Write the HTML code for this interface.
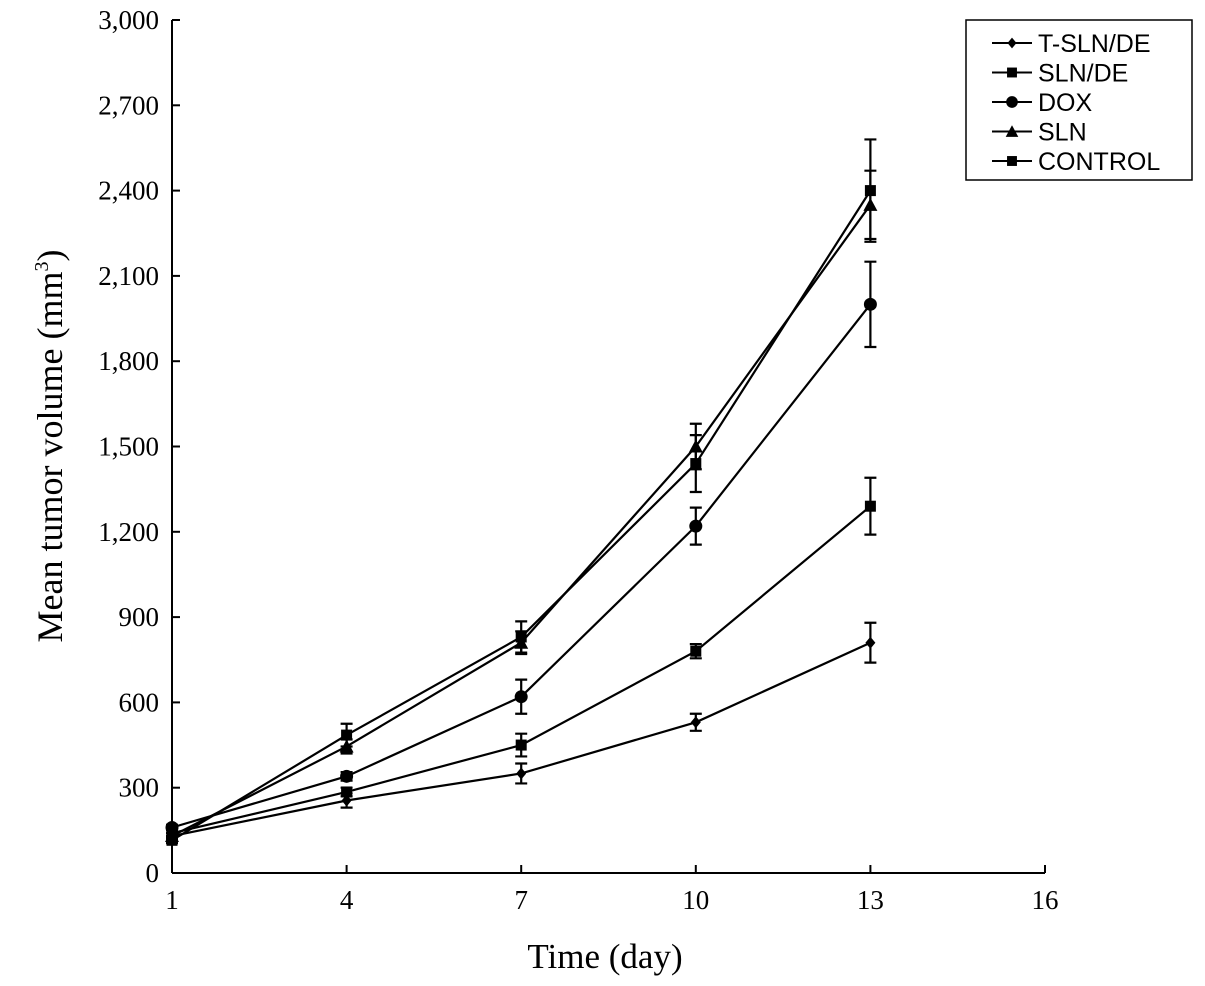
<!DOCTYPE html>
<html><head><meta charset="utf-8">
<style>
html,body{margin:0;padding:0;background:#fff;}
svg{display:block;font-family:"Liberation Serif",serif;}
</style></head>
<body>
<svg id="chart" width="1205" height="986" viewBox="0 0 1205 986" xmlns="http://www.w3.org/2000/svg">
<g id="axes"></g>
<g id="series"></g>
<text x="605" y="968" text-anchor="middle" font-size="35">Time (day)</text>
<text transform="translate(62,446) rotate(-90)" text-anchor="middle" font-size="36">Mean tumor volume (mm<tspan dy="-14" font-size="20">3</tspan><tspan dy="14">)</tspan></text>
<g id="legend"></g>
</svg>
<script>
const days = [1, 4, 7, 10, 13];
const seriesNames = ["T-SLN/DE", "SLN/DE", "DOX", "SLN", "CONTROL"];
const markers = ["diamond", "square", "circle", "triangle", "square"];
const tslnde = [130, 255, 350, 530, 810];
const tslndeErr = [10, 25, 35, 30, 70];
const slnde = [140, 285, 450, 780, 1290];
const slndeErr = [10, 15, 40, 25, 100];
const dox = [160, 340, 620, 1220, 2000];
const doxErr = [10, 15, 60, 65, 150];
const sln = [130, 445, 810, 1500, 2350];
const slnErr = [10, 25, 40, 80, 120];
const control = [115, 485, 830, 1440, 2400];
const controlErr = [10, 40, 55, 100, 180];
const xTicks = [1, 4, 7, 10, 13, 16];
const yTicks = [0, 300, 600, 900, 1200, 1500, 1800, 2100, 2400, 2700, 3000];
const yTickLabels = ["0","300","600","900","1,200","1,500","1,800","2,100","2,400","2,700","3,000"];

const NS = "http://www.w3.org/2000/svg";
const X0 = 172, X1 = 1045, Y0 = 873, Y1 = 20;
const xs = v => X0 + (v - 1) / 15 * (X1 - X0);
const ys = v => Y0 - v / 3000 * (Y0 - Y1);
function mk(tag, attrs, parent){const e=document.createElementNS(NS,tag);for(const k in attrs)e.setAttribute(k,attrs[k]);parent.appendChild(e);return e;}

const axes = document.getElementById("axes");
let a = mk("line",{x1:X0,y1:Y0,x2:X1,y2:Y0,stroke:"#000","stroke-width":2},axes);


a = mk("line",{x1:X0,y1:Y0,x2:X0,y2:Y1,stroke:"#000","stroke-width":2},axes);


xTicks.forEach(t=>{
  const x=xs(t);
  mk("line",{x1:x,y1:Y0,x2:x,y2:Y0-8,stroke:"#000","stroke-width":2},axes);
  const tx=mk("text",{x:x,y:909,"text-anchor":"middle","font-size":27},axes);
  tx.textContent=t;
  
  
});
yTicks.forEach((t,i)=>{
  const y=ys(t);
  mk("line",{x1:X0,y1:y,x2:X0+8,y2:y,stroke:"#000","stroke-width":2},axes);
  const tx=mk("text",{x:159,y:y+9,"text-anchor":"end","font-size":27},axes);
  tx.textContent=yTickLabels[i];
  
  
});

function marker(type,x,y,g,s){
  s=s||1;
  if(type==="diamond") return mk("polygon",{points:`${x},${y-6*s} ${x+5*s},${y} ${x},${y+6*s} ${x-5*s},${y}`,fill:"#000"},g);
  if(type==="square") return mk("rect",{x:x-5.5*s,y:y-5.5*s,width:11*s,height:11*s,fill:"#000"},g);
  if(type==="circle") return mk("circle",{cx:x,cy:y,r:6.5*s,fill:"#000"},g);
  return mk("polygon",{points:`${x},${y-7*s} ${x+7*s},${y+6*s} ${x-7*s},${y+6*s}`,fill:"#000"},g);
}

const allVals=[tslnde,slnde,dox,sln,control];
const allErr=[tslndeErr,slndeErr,doxErr,slnErr,controlErr];
const seriesG=document.getElementById("series");
allVals.forEach((vals,si)=>{
  const g=mk("g",{},seriesG);
  
  
  const pts=days.map((d,i)=>xs(d)+","+ys(vals[i])).join(" ");
  const pl=mk("polyline",{points:pts,fill:"none",stroke:"#000","stroke-width":2.2},g);
  
  
  days.forEach((d,i)=>{
    const x=xs(d),y=ys(vals[i]),e=allErr[si][i];
    const yt=ys(vals[i]+e), yb=ys(vals[i]-e);
    mk("path",{d:`M${x},${yt}V${yb}M${x-6},${yt}H${x+6}M${x-6},${yb}H${x+6}`,stroke:"#000","stroke-width":2.2,fill:"none"},g);
    const m=marker(markers[si],x,y,g);
    
    
  });
});

const lg=document.getElementById("legend");
mk("rect",{x:966,y:20,width:226,height:160,fill:"#fff",stroke:"#000","stroke-width":1.5},lg);
seriesNames.forEach((n,i)=>{
  const y=43+i*29.5;
  const g=mk("g",{},lg);
  
  
  mk("line",{x1:992,y1:y,x2:1032,y2:y,stroke:"#000","stroke-width":2},g);
  marker(markers[i],1012,y,g,0.9);
  const t=mk("text",{x:1038,y:y+9,"font-size":25,"font-family":"Liberation Sans, sans-serif"},g);
  t.textContent=n;
});
</script>
</body></html>
